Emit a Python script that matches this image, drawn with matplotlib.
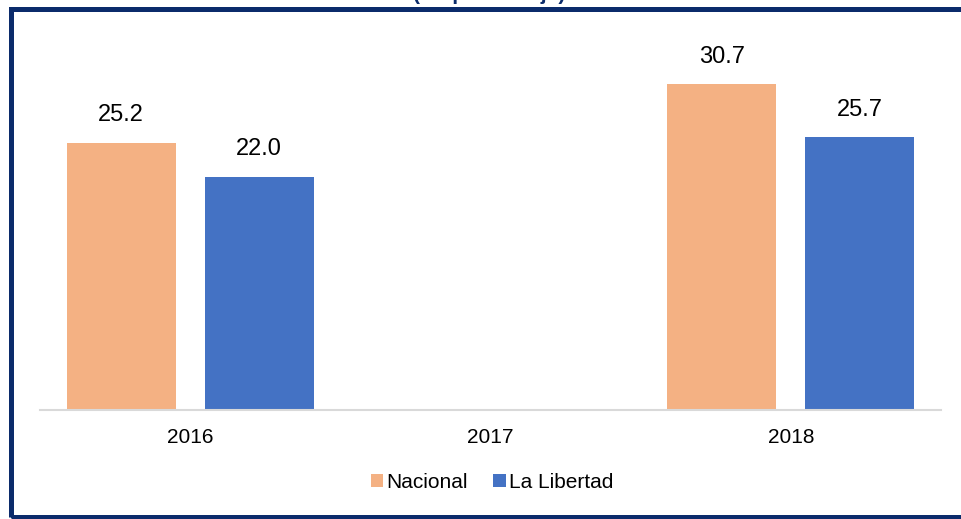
import numpy as np
import matplotlib
matplotlib.use('Agg')
from matplotlib import pyplot as plt
from matplotlib.patches import Rectangle

## data
years = ['2016', '2017', '2018']
nacional = [25.2, np.nan, 30.7]
la_libertad = [22.0, np.nan, 25.7]

plt.rcParams['font.family'] = ['Liberation Sans', 'DejaVu Sans']

fig = plt.figure(figsize=(9.61, 5.19), dpi=100)
W, H = 961, 519
ax = fig.add_axes([40 / W, 109 / H, 901 / W, 381 / H])

x = np.arange(len(years))
bw = 0.363
off = 0.23
b1 = ax.bar(x - off, nacional, bw, color='#F4B183', label='Nacional')
b2 = ax.bar(x + off, la_libertad, bw, color='#4472C4', label='La Libertad')

for bars, vals in [(b1, nacional), (b2, la_libertad)]:
    for rect, v in zip(bars, vals):
        if np.isnan(v):
            continue
        ax.annotate('%.1f' % v, (rect.get_x() + rect.get_width() / 2, v),
                    xytext=(0, 12), textcoords='offset points',
                    ha='center', va='bottom', fontsize=17)

ax.set_xlim(-0.5, 2.5)
ax.set_ylim(0, 35.9)
ax.set_xticks(x)
ax.set_xticklabels(years, fontsize=15)
ax.tick_params(axis='x', length=0, pad=13)
ax.set_yticks([])
for s in ['top', 'right', 'left']:
    ax.spines[s].set_visible(False)
ax.spines['bottom'].set_color('#D9D9D9')
ax.spines['bottom'].set_linewidth(1.5)

fig.legend(loc='center', bbox_to_anchor=(492 / W, 1 - 482 / H), ncol=2,
           frameon=False, fontsize=15, handlelength=0.6, handleheight=0.6,
           handletextpad=0.15, columnspacing=1.2)

## frame around the chart
fig.patches.append(Rectangle((10.5 / W, 2 / H), 1.0, 1 - 10.5 / H,
                             transform=fig.transFigure, fill=False,
                             edgecolor='#0B2B6B', linewidth=3.6, zorder=10))

## title, mostly cut off
fig.text(489 / W, 1.0, '(En porcentaje)', ha='center', va='baseline',
         fontsize=15, color='#0B2B6B', fontweight='bold')

fig.savefig('out.png', dpi=100)
